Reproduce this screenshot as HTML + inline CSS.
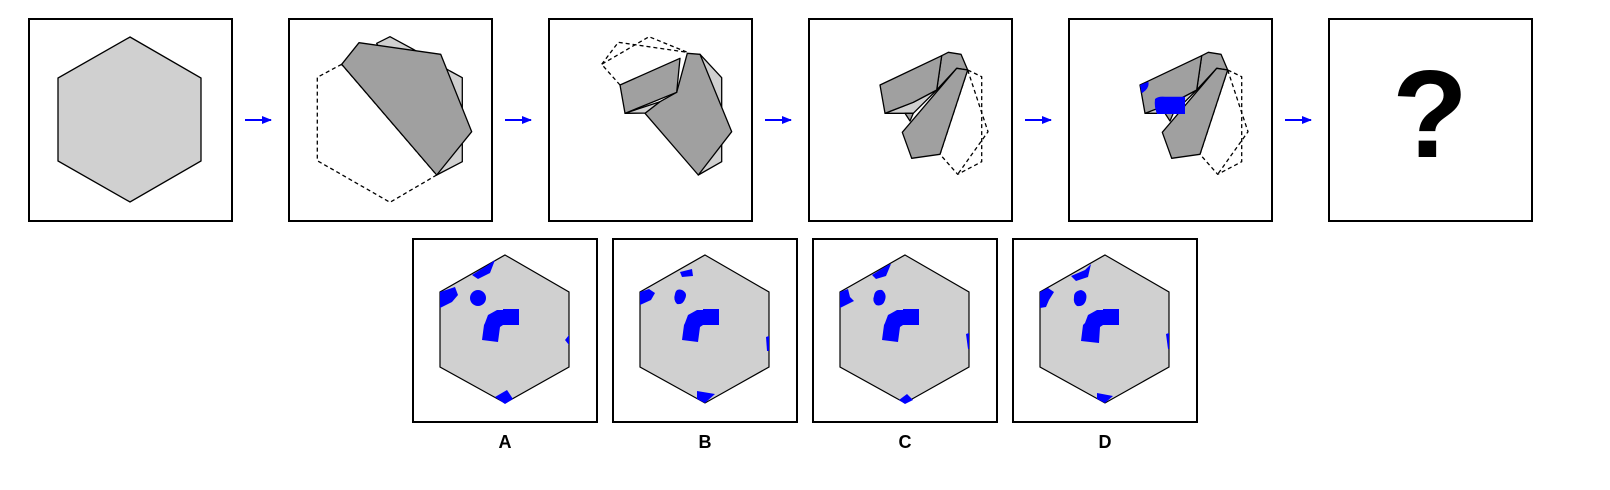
<!DOCTYPE html>
<html><head><meta charset="utf-8"><style>
html,body{margin:0;padding:0;background:#fff}
svg{display:block}
text{font-family:"Liberation Sans",Arial,sans-serif;font-weight:bold}
</style></head><body>
<svg width="1610" height="490" viewBox="0 0 1610 490">
<defs>
<marker id="ah" markerWidth="10" markerHeight="8" refX="9" refY="4" orient="auto" markerUnits="userSpaceOnUse">
<path d="M0,0 L10,4 L0,8 Z" fill="#0000ff"/></marker>
</defs>
<g fill="none" stroke="#000" stroke-width="2">
<rect x="29" y="19" width="203" height="202"/>
<rect x="289" y="19" width="203" height="202"/>
<rect x="549" y="19" width="203" height="202"/>
<rect x="809" y="19" width="203" height="202"/>
<rect x="1069" y="19" width="203" height="202"/>
<rect x="1329" y="19" width="203" height="202"/>
</g>
<g stroke="#0000ff" stroke-width="2" marker-end="url(#ah)">
<line x1="245" y1="120" x2="271" y2="120"/>
<line x1="505" y1="120" x2="531" y2="120"/>
<line x1="765" y1="120" x2="791" y2="120"/>
<line x1="1025" y1="120" x2="1051" y2="120"/>
<line x1="1285" y1="120" x2="1311" y2="120"/>
</g>
<polygon points="130,37 201,78 201,161 130,202 58,161 58,78" fill="#d0d0d0" stroke="#000" stroke-width="1.3"/>
<g stroke="#000" stroke-width="1.3" stroke-linejoin="round">
<polygon points="341.7,64.3 317.3,77.3 317.3,160.7 390,202.3 436.7,175" fill="none" stroke-dasharray="4,3"/>
<polygon points="376.7,43.3 390,36.7 413.3,49.3 450,71 462.3,77.7 462.3,161.7 436.7,175" fill="#d0d0d0"/>
<polygon points="359,42.7 440.7,54.3 471.7,131.7 436.7,175 341.7,64.3" fill="#a0a0a0"/>
</g>
<g stroke="#000" stroke-width="1.3" stroke-linejoin="round">
<polyline points="620,85 601.7,64.3 649,36.7 687.3,52.3" fill="none" stroke-dasharray="4,3"/>
<polyline points="601.7,64.3 618.3,42.3 687.3,52.3" fill="none" stroke-dasharray="4,3"/>
<polygon points="700,54.3 721.7,77.7 721.7,161.7 698.3,175" fill="#d0d0d0"/>
<polygon points="625,113.3 653,113 660,101.7" fill="#d0d0d0"/>
<polygon points="687.3,53.3 700,54.3 731.7,131.7 698.3,175 645,113.3 660,101.7 676.7,92.3" fill="#a0a0a0"/>
<polygon points="620,85 680,58.3 676.7,92.3 625,113.3" fill="#a0a0a0"/>
</g>
<g id="f4" stroke="#000" stroke-width="1.3" stroke-linejoin="round">
<polygon points="967.7,70 981.7,76.7 981.7,161.7 957.7,174.3 940,154.3" fill="none" stroke-dasharray="4,3"/>
<polyline points="967.7,70 988,131.7 957.7,174.3" fill="none" stroke-dasharray="4,3"/>
<polygon points="941.7,55.7 948.3,52.3 961,54.3 967.7,70 956.7,68.3 936.7,90" fill="#a0a0a0"/>
<polygon points="885,113.3 913.3,102.3 936.7,90 913.3,113.3" fill="#d0d0d0"/>
<polygon points="905,113.3 913.3,113.3 910,121" fill="#a0a0a0"/>
<polygon points="880,85 941.7,55.7 936.7,90 913.3,102.3 885,113.3" fill="#a0a0a0"/>
<polygon points="956.7,68.3 967.7,70 940,154.3 911.7,158.3 902.3,132.3" fill="#a0a0a0"/>
</g>
<g transform="translate(260,0)">
<use href="#f4"/>
<path d="M880,85 L888.3,81.7 Q890,88 881.7,93.3 Z" fill="#0000ff"/>
<path d="M895,99 Q898,96 905,96.7 L925,96.7 L925,114 L897,114 Q894,107 895,99 Z" fill="#0000ff"/>
</g>
<text x="1430" y="157" font-size="124" text-anchor="middle" fill="#000">?</text>

<g fill="none" stroke="#000" stroke-width="2">
<rect x="413" y="239" width="184" height="183"/>
<rect x="613" y="239" width="184" height="183"/>
<rect x="813" y="239" width="184" height="183"/>
<rect x="1013" y="239" width="184" height="183"/>
</g>
<g transform="translate(413,239)">
<polygon points="92,16 156,53 156,128 92,164 27,128 27,53" fill="#d0d0d0" stroke="#000" stroke-width="1.2"/>
<g fill="#0000ff">
<circle cx="65" cy="59" r="8"/>
<polygon points="59,36 75,26 82,21 77,34 65,40"/>
<polygon points="27,53 42,48 45,56 39,63 27,69"/>
<rect x="90" y="70" width="16" height="16"/>
<polygon points="72,84 75,76 84,71 90,71 90,86 87,88 85,103 69,101 71,86"/>
<polygon points="152,101 156,96 156,106"/>
<polygon points="82,158 94,151 100,160 92,165"/>
</g></g>
<g transform="translate(613,239)">
<polygon points="92,16 156,53 156,128 92,164 27,128 27,53" fill="#d0d0d0" stroke="#000" stroke-width="1.2"/>
<g fill="#0000ff">
<path d="M62,55 Q63,49 69,51 Q75,54 72,60 Q70,66 64,65 Q60,61 62,55 Z"/>
<polygon points="67,33 79,30 80,37 69,38"/>
<polygon points="27,53 36,50 42,54 38,61 27,66"/>
<rect x="90" y="70" width="16" height="16"/>
<polygon points="72,84 75,76 84,71 90,71 90,86 87,88 85,103 69,101 71,86"/>
<polygon points="153,98 156,97 156,112 154,112"/>
<polygon points="84,152 102,155 92,164 84,160"/>
</g></g>
<g transform="translate(813,239)">
<polygon points="92,16 156,53 156,128 92,164 27,128 27,53" fill="#d0d0d0" stroke="#000" stroke-width="1.2"/>
<g fill="#0000ff">
<path d="M61,57 Q62,50 69,51 Q74,55 72,61 Q70,68 63,66 Q59,62 61,57 Z"/>
<polygon points="59,36 75,26 78,25 73,37 63,40"/>
<polygon points="27,53 35,50 37,58 41,62 27,69"/>
<rect x="90" y="70" width="16" height="16"/>
<polygon points="72,84 75,76 84,71 90,71 90,86 87,88 85,103 69,101 71,86"/>
<polygon points="153,95 156,94 156,110 155,110"/>
<polygon points="86,161 94,155 100,161 92,165"/>
</g></g>
<g transform="translate(1013,239)">
<polygon points="92,16 156,53 156,128 92,164 27,128 27,53" fill="#d0d0d0" stroke="#000" stroke-width="1.2"/>
<g fill="#0000ff">
<path d="M61,58 Q61,52 68,51 Q75,53 73,61 Q71,68 64,67 Q60,64 61,58 Z"/>
<polygon points="58,37 72,31 78,25 75,38 63,42"/>
<polygon points="27,53 35,49 41,53 36,61 33,68 27,69"/>
<rect x="90" y="70" width="16" height="16"/>
<polygon points="72,84 75,76 84,71 90,71 90,86 87,88 86,104 68,102 70,86"/>
<polygon points="153,95 156,94 156,110 155,110"/>
<polygon points="84,154 100,157 92,164 84,160"/>
</g></g>
<g font-size="18" text-anchor="middle" fill="#000">
<text x="505" y="448">A</text>
<text x="705" y="448">B</text>
<text x="905" y="448">C</text>
<text x="1105" y="448">D</text>
</g>
</svg>
</body></html>
